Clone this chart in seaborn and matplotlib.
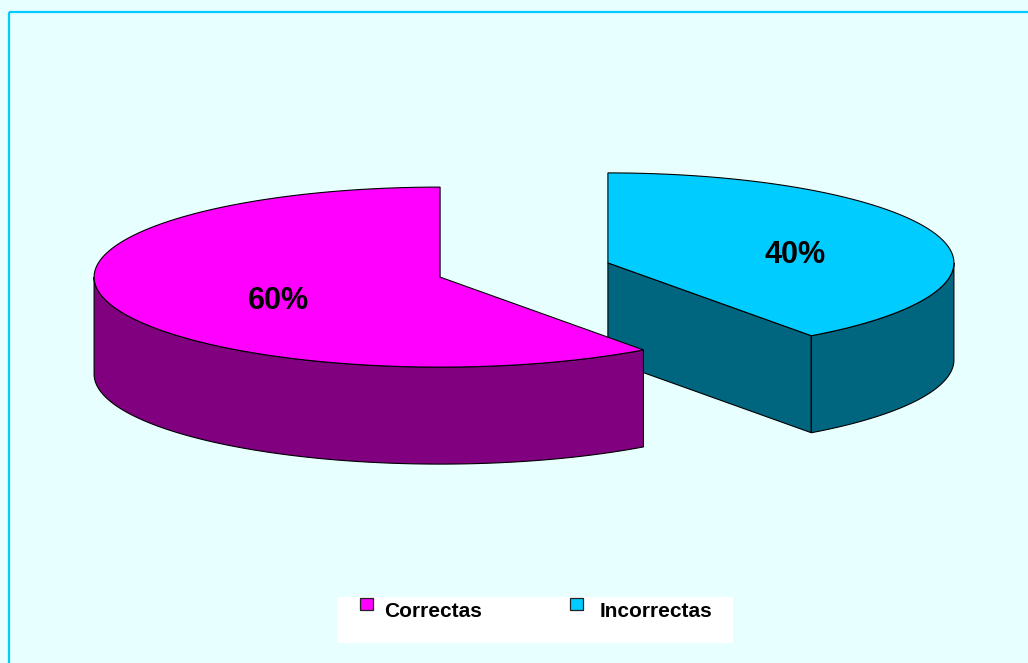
import numpy as np
import matplotlib
matplotlib.use("Agg")
import matplotlib.pyplot as plt
from matplotlib.patches import Polygon, Rectangle
import seaborn as sns

# ---- data ----
categories = ["Correctas", "Incorrectas"]
values = [60, 40]
pct_labels = ["60%", "40%"]
top_colors = ["#FF00FF", "#00CCFF"]
side_colors = ["#800080", "#006680"]

sns.set_style("white")
plt.rcParams["font.family"] = ["Liberation Sans", "DejaVu Sans"]

W, H = 1028, 663
BG = "#E8FFFF"
fig = plt.figure(figsize=(W / 100, H / 100), dpi=100, facecolor=BG)
ax = fig.add_axes([0, 0, 1, 1])
ax.set_xlim(0, W)
ax.set_ylim(H, 0)
ax.axis("off")
ax.set_facecolor(BG)

# chart-area frame (clipped at right/bottom like the reference)
ax.add_patch(Rectangle((8.5, 11.5), W + 20, H + 20, fill=False,
                       ec="#00CCFF", lw=1.6, zorder=1))

# ---- 3D pie geometry ----
CX, CY = 524, 270
A, B, DEPTH = 346, 90, 97
EXPLODE = 0.255
EDGE = dict(ec="black", lw=0.8, joinstyle="miter")


def arc(cx, cy, t0, t1, n=200, dy=0.0):
    t = np.linspace(t0, t1, n)
    return np.column_stack([cx + A * np.cos(t), cy - B * np.sin(t) + dy])


fracs = np.array(values, dtype=float) / sum(values)
slices = []
start = np.deg2rad(90)
for i, f in enumerate(fracs):
    t0, t1 = start, start + 2 * np.pi * f
    mid = 0.5 * (t0 + t1)
    cx = CX + EXPLODE * A * np.cos(mid)
    cy = CY - EXPLODE * B * np.sin(mid)
    slices.append((i, t0, t1, mid, cx, cy))
    start = t1

for i, t0, t1, mid, cx, cy in reversed(slices):
    z = 3 + (len(slices) - i) * 0.0 + (0 if i else 5)
    # radial cut faces
    for t, vis in ((t0, np.cos(t0) > 1e-9), (t1, np.cos(t1) < -1e-9)):
        if vis:
            px, py = cx + A * np.cos(t), cy - B * np.sin(t)
            face = [(cx, cy), (px, py), (px, py + DEPTH), (cx, cy + DEPTH)]
            ax.add_patch(Polygon(face, closed=True, fc=side_colors[i], zorder=z, **EDGE))
    # outer wall (front half only)
    for k in (0, 1):
        lo = max(t0, np.pi + 2 * np.pi * k)
        hi = min(t1, 2 * np.pi + 2 * np.pi * k)
        if hi > lo:
            top = arc(cx, cy, lo, hi)
            bot = arc(cx, cy, lo, hi, dy=DEPTH)[::-1]
            ax.add_patch(Polygon(np.vstack([top, bot]), closed=True,
                                 fc=side_colors[i], zorder=z, **EDGE))
    # top face
    pts = np.vstack([[cx, cy], arc(cx, cy, t0, t1)])
    ax.add_patch(Polygon(pts, closed=True, fc=top_colors[i], zorder=z + 1, **EDGE))
    # percentage label
    lx = cx + 0.53 * A * np.cos(mid) + 13
    ly = cy - 0.57 * B * np.sin(mid) + 5
    ax.text(lx, ly + 11, pct_labels[i], ha="center", va="baseline",
            fontsize=22, fontweight="bold", color="black", zorder=20)

# ---- legend ----
ax.add_patch(Rectangle((337, 597), 396, 46, fc="white", ec="none", zorder=10))
leg_x = [360, 570]
txt_x = [384, 600]
for i, name in enumerate(categories):
    ax.add_patch(Rectangle((leg_x[i], 597.5), 12.5, 12.5, fc=top_colors[i],
                           ec="#222222", lw=0.9, zorder=11))
    ax.text(txt_x[i], 617, name, ha="left", va="baseline", fontsize=15,
            fontweight="bold", color="black", zorder=11)

fig.savefig("out.png", dpi=100, facecolor=BG)
